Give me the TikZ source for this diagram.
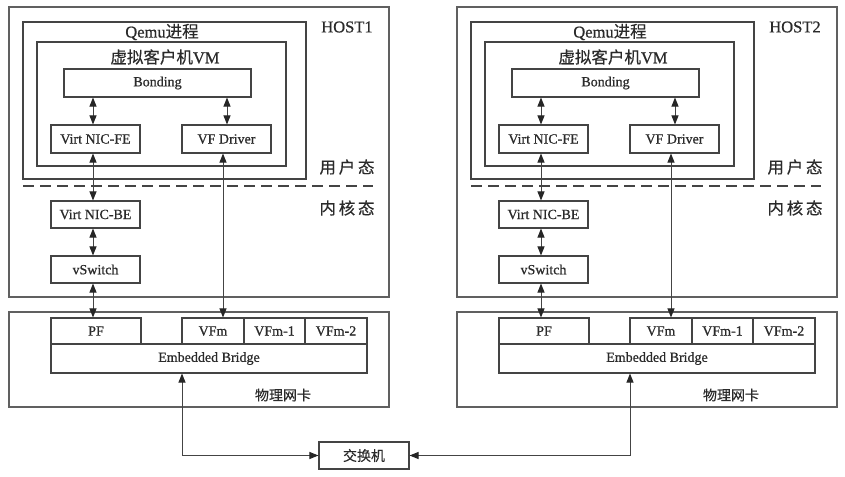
\documentclass[tikz,border=0pt]{standalone}
\usepackage{fontspec}
\setmainfont{Liberation Serif}[FakeBold=0.8]
\newfontfamily\cjk{Noto Sans CJK SC}[FakeBold=0.3]
\usetikzlibrary{arrows.meta}
\definecolor{ln}{HTML}{444444}
\definecolor{tx}{HTML}{2a2a2a}
\tikzset{
  every node/.style={text=tx},
  box/.style={draw=ln,line width=1.1pt,inner sep=0pt},
  frame/.style={draw=ln!85,line width=1.1pt},
  lbl/.style={font=\fontsize{14}{16}\selectfont},
  big/.style={font=\fontsize{16.5}{18}\selectfont},
  conn/.style={draw=ln,line width=1pt,{Triangle[length=9pt,width=7pt,color=black!85]}-{Triangle[length=9pt,width=7pt,color=black!85]}},
}
\begin{document}
\begin{tikzpicture}[x=1pt,y=-1pt]
\useasboundingbox (0,0) rectangle (845,476);
\foreach \h/\n in {0/1,448/2}{
\begin{scope}[xshift=\h pt]
  % host frame
  \draw[frame] (9,7) rectangle (389,297);
  \node[big,anchor=center] (host\n) at (347,27) {HOST\n};
  \draw[box] (23,22) rectangle (306,179);
  \node[big] (qemu\n) at (162,32) {Qemu{\cjk 进程}};
  \draw[box] (37,42) rectangle (286,166);
  \node[big] (vm\n) at (165,57) {{\cjk 虚拟客户机}VM};
  \node[box,lbl,minimum width=187pt,minimum height=28pt] (bond\n) at (157.5,83) {Bonding};
  \node[box,lbl,minimum width=89pt,minimum height=28pt] (fe\n) at (95.5,139) {Virt NIC-FE};
  \node[box,lbl,minimum width=89pt,minimum height=28pt] (vfd\n) at (226.5,139) {VF Driver};
  \node[big] (user\n) at (347,167) {\cjk 用\,户\,态};
  \draw[ln,line width=1.1pt,dash pattern=on 11pt off 6pt] (23,186) coordinate (d\n a) -- (373,186) coordinate (d\n b);
  \node[big] (kern\n) at (347,208) {\cjk 内\,核\,态};
  \node[box,lbl,minimum width=89pt,minimum height=27pt] (be\n) at (95.5,214.5) {Virt NIC-BE};
  \node[box,lbl,minimum width=89pt,minimum height=27pt] (vsw\n) at (95.5,269.5) {vSwitch};
  % NIC
  \draw[frame] (9,312) rectangle (389,407);
  \node[box,lbl,minimum width=90pt,minimum height=26pt] (pf\n) at (96,331) {PF};
  \node[box,lbl,minimum width=62pt,minimum height=26pt] (vfm\n) at (213,331) {VFm};
  \node[box,lbl,minimum width=61pt,minimum height=26pt] (vfm1\n) at (274.5,331) {VFm-1};
  \node[box,lbl,minimum width=62pt,minimum height=26pt] (vfm2\n) at (336,331) {VFm-2};
  \node[box,lbl,minimum width=316pt,minimum height=29pt] (eb\n) at (209,358.5) {Embedded Bridge};
  \node[lbl] (nic\n) at (283,395) {\cjk 物理网卡};
  % connector columns
  \coordinate (xa\n) at (93,0);
  \coordinate (xb\n) at (227,0);
  \coordinate (xc\n) at (223,0);
  % connectors
  \draw[conn] (bond\n.south -| xa\n) -- (fe\n.north -| xa\n);
  \draw[conn] (bond\n.south -| xb\n) -- (vfd\n.north -| xb\n);
  \draw[conn] (fe\n.south -| xa\n) -- (be\n.north -| xa\n);
  \draw[conn] (be\n.south -| xa\n) -- (vsw\n.north -| xa\n);
  \draw[conn] (vsw\n.south -| xa\n) -- (pf\n.north -| xa\n);
  \draw[conn] (vfd\n.south -| xc\n) -- (vfm\n.north -| xc\n);
\end{scope}
}
\node[box,lbl,minimum width=90pt,minimum height=27pt] (sw) at (364,455.5) {\cjk 交换机};
\coordinate (c1) at (182,455.5);
\coordinate (c2) at (630,455.5);
\draw[conn] (eb1.south -| c1) |- (sw.west);
\draw[conn] (eb2.south -| c2) |- (sw.east);
\end{tikzpicture}
\end{document}
